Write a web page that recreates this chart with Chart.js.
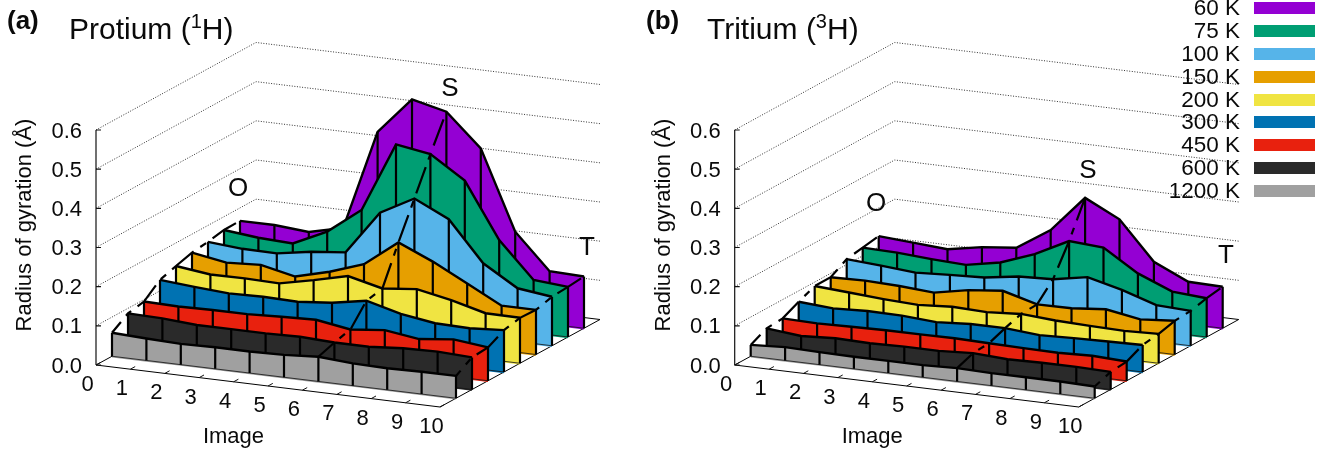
<!DOCTYPE html>
<html><head><meta charset="utf-8">
<style>html,body{margin:0;padding:0;background:#fff}canvas{display:block}</style>
<script src="https://cdn.jsdelivr.net/npm/chart.js@4"></script>
</head><body><canvas id="c" width="1335" height="451"></canvas>
<script>
const images=[0,1,2,3,4,5,6,7,8,9,10];
const radiusTicks=[0,0.1,0.2,0.3,0.4,0.5,0.6];
const temperatures=['60 K','75 K','100 K','150 K','200 K','300 K','450 K','600 K','1200 K'];
const colors=['#9400d3','#009e73','#56b4e9','#e69f00','#f0e442','#0072b2','#e8210e','#2a2a2a','#a0a0a0'];
// Protium (a)
const h60=[.167,.167,.160,.181,.437,.531,.510,.427,.225,.135,.132];
const h75=[.166,.157,.153,.194,.260,.438,.424,.367,.226,.135,.128];
const h100=[.158,.151,.150,.165,.174,.286,.333,.291,.189,.136,.125];
const h150=[.153,.138,.143,.124,.147,.177,.243,.205,.160,.114,.114];
const h200=[.141,.130,.131,.129,.148,.169,.148,.157,.140,.117,.116];
const h300=[.128,.121,.115,.117,.115,.123,.139,.116,.103,.101,.107];
const h450=[.095,.093,.095,.095,.099,.102,.088,.097,.085,.095,.085];
const h600=[.087,.085,.079,.079,.079,.081,.077,.077,.084,.086,.082];
const h1200=[.060,.056,.053,.055,.055,.057,.063,.057,.055,.057,.057];
// Tritium (b)
const t60=[.128,.122,.116,.132,.141,.197,.290,.246,.148,.108,.106];
const t75=[.121,.119,.113,.109,.126,.158,.202,.196,.141,.105,.099];
const t100=[.114,.108,.101,.106,.110,.123,.127,.143,.121,.093,.089];
const t150=[.090,.092,.089,.083,.100,.109,.085,.086,.094,.079,.086];
const t200=[.090,.084,.078,.074,.080,.077,.083,.077,.074,.072,.075];
const t300=[.072,.066,.070,.069,.063,.069,.069,.062,.065,.067,.069];
const t450=[.052,.050,.052,.054,.054,.055,.053,.051,.050,.053,.049];
const t600=[.049,.040,.045,.043,.045,.045,.050,.045,.047,.047,.045];
const t1200=[.029,.034,.032,.031,.031,.031,.034,.032,.032,.032,.030];
const protium=[h60,h75,h100,h150,h200,h300,h450,h600,h1200];
const tritium=[t60,t75,t100,t150,t200,t300,t450,t600,t1200];
const pathImages=[0,6,10];
const pathDashOffsets=[[14,8,21],[14,8,21]];

// oblique projection used for both panels
const OX=96,OY=365,IMG_DX=34.4,IMG_DY=4.2,DEPTH_DX=160,DEPTH_DY=-87.5,Z_PX=391.7;
const SHIFT=[0,638.7];
const proj=(p,img,depth,z)=>({x:OX+SHIFT[p]+IMG_DX*img+DEPTH_DX*depth,y:OY+IMG_DY*img+DEPTH_DY*depth-Z_PX*z});

const ds=[];
function add(points,o){ds.push(Object.assign({data:points,showLine:true,pointRadius:0,pointHoverRadius:0,borderWidth:0,borderColor:'#000',clip:false,fill:false,spanGaps:false},o));}
const GAP={x:NaN,y:NaN};

[protium,tritium].forEach((series,p)=>{
  // walls
  radiusTicks.slice(1).forEach(z=>{
    add([proj(p,0,0,z),proj(p,0,1,z),proj(p,10,1,z)],{borderWidth:1,borderColor:'#333',borderDash:[1,1.6]});
  });
  // floor + vertical axis
  add([proj(p,0,0,0),proj(p,10,0,0),proj(p,10,1,0),proj(p,0,1,0),proj(p,0,0,0)],{borderWidth:1,borderColor:'#000'});
  add([proj(p,0,0,0),proj(p,0,0,.6)],{borderWidth:1.2,borderColor:'#111'});
  const zt=[];radiusTicks.forEach(z=>{const a=proj(p,0,0,z);zt.push(a,{x:a.x+5,y:a.y},GAP);});
  add(zt,{borderWidth:1.2,borderColor:'#111'});
  const it=[];images.forEach(i=>{it.push(proj(p,i,0,0),proj(p,i,.03,0),GAP);});
  add(it,{borderWidth:1,borderColor:'#111'});
  // fences, back to front
  series.forEach((vals,k)=>{
    const d=(9-k)/10;
    const top=images.map(i=>proj(p,i,d,vals[i]));
    const bot=images.map(i=>proj(p,i,d,0));
    const low=images.map(i=>proj(p,i,d,-.003));
    add(top.concat(low.slice().reverse()),{fill:'shape',backgroundColor:colors[k]});
    add(bot,{borderWidth:.8,borderColor:'#111'});
    const v=[];images.forEach(i=>{v.push(top[i],bot[i],GAP);});
    add(v,{borderWidth:2.2});
    add(top,{borderWidth:2.4,borderJoinStyle:'miter'});
  });
  // O, S, T paths across the fences
  pathImages.forEach((im,q)=>{
    const pts=series.map((vals,k)=>proj(p,im,(9-k)/10,vals[im])).reverse();
    add(pts,{borderWidth:2.2,borderDash:[28,8,7,8],borderDashOffset:pathDashOffsets[p][q]});
  });
});
ds.forEach((d,i)=>{d.order=ds.length-i;});

const FONT='"Liberation Sans",Arial,sans-serif';
const INK='#0a0a0a';
const textPlugin={id:'texts',afterDatasetsDraw(chart){
  const c=chart.ctx,X=chart.scales.x,Y=chart.scales.y;
  const T=(s,x,y,size,al='center',bl='middle',w='normal')=>{c.font=`${w} ${size}px ${FONT}`;c.textAlign=al;c.textBaseline=bl;c.fillStyle=INK;c.fillText(s,X.getPixelForValue(x),Y.getPixelForValue(bl==='middle'?y+1:y));};
  c.save();
  [0,1].forEach(p=>{
    const s=SHIFT[p];
    radiusTicks.forEach(z=>T(z.toFixed(1),82+s,OY-Z_PX*z+.5,22,'right'));
    images.forEach(i=>T(String(i),OX+s+IMG_DX*i-8.5,OY+IMG_DY*i+19,22));
    T('Image',233.5+s,436,22);
    c.save();c.translate(25+s,225);c.rotate(-Math.PI/2);
    c.font=`22px ${FONT}`;c.textAlign='center';c.textBaseline='middle';c.fillStyle=INK;c.fillText('Radius of gyration (Å)',0,0);c.restore();
  });
  T('(a)',7,21,26,'left','middle','bold');T('(b)',646,21,26,'left','middle','bold');
  const title=(x,a,sup,b)=>{T(a,x,39,30,'left','alphabetic');c.font=`30px ${FONT}`;let w=c.measureText(a).width;
    T(sup,x+w,28,20,'left','alphabetic');c.font=`20px ${FONT}`;w+=c.measureText(sup).width;T(b,x+w,39,30,'left','alphabetic');};
  title(69,'Protium (','1','H)');title(707,'Tritium (','3','H)');
  [['O',238,188],['S',450,88],['T',587,247],['O',876,203],['S',1088,170],['T',1226,255]].forEach(l=>T(l[0],l[1],l[2],26));
  const ly=[8,31,54,77,100,122,145,168,191];
  temperatures.forEach((t,k)=>{T(t,1240,ly[k],22.5,'right');c.fillStyle=colors[k];c.fillRect(1254,ly[k]-6,61,12);});
  c.restore();
}};
new Chart(document.getElementById('c'),{type:'scatter',data:{datasets:ds},plugins:[textPlugin],options:{
  responsive:false,animation:false,events:[],layout:{padding:0},
  plugins:{legend:{display:false},tooltip:{enabled:false},filler:{propagate:false}},
  scales:{x:{type:'linear',display:false,min:0,max:1335},y:{type:'linear',display:false,min:0,max:451,reverse:true}}
}});
</script></body></html>
